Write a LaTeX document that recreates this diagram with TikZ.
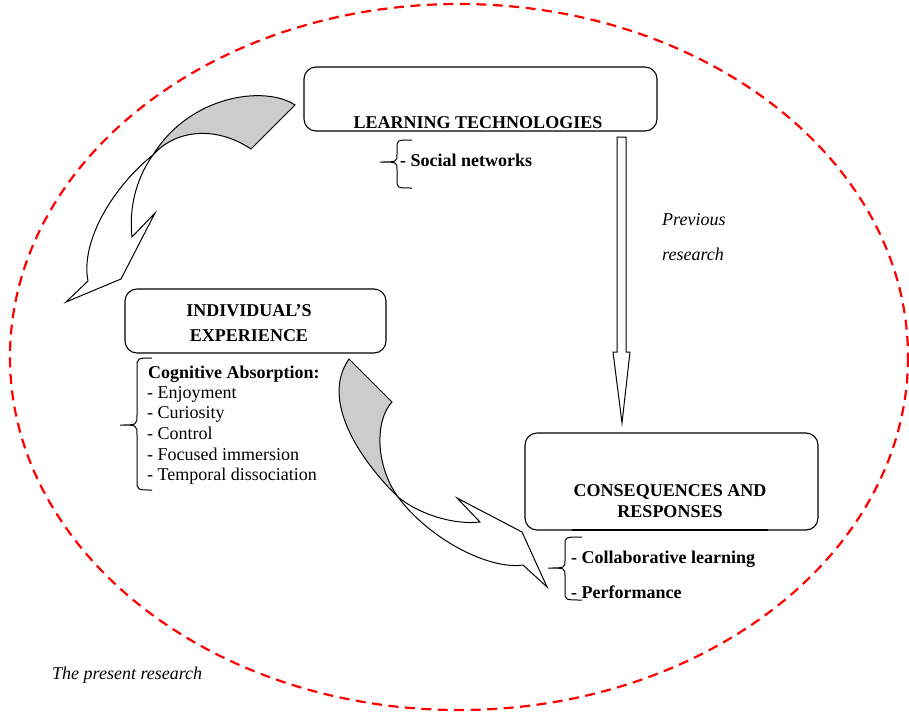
\documentclass[tikz,border=0pt]{standalone}
\usepackage{fontspec}
\setmainfont{Liberation Serif}
\begin{document}
\begin{tikzpicture}[x=1pt,y=-1pt,
  every node/.style={font=\fontsize{18}{22}\selectfont, inner sep=0pt},
  box/.style={draw, rounded corners=12pt, line width=1.1pt},
  title/.style={font=\fontsize{18}{22}\selectfont\bfseries, anchor=base},
  item/.style={anchor=base west},
  bitem/.style={anchor=base west, font=\fontsize{18}{22}\selectfont\bfseries},
  note/.style={anchor=base west, font=\fontsize{18}{22}\selectfont\itshape},
  ribbon/.style={draw, line width=1pt, line join=miter},
  brace/.style={draw, line width=1pt},
  scopeline/.style={draw=red, line width=2.2pt, dash pattern=on 10pt off 6.5pt}]
\useasboundingbox (0,0) rectangle (909,712);

% outer dashed scope
\draw[scopeline] (459,357) ellipse [x radius=449, y radius=353];

% boxes
\node[box, minimum width=353pt, minimum height=64pt] (lt) at (480.5,99) {};
\node[box, minimum width=261pt, minimum height=64pt] (ie) at (255.5,321) {};
\node[box, minimum width=293pt, minimum height=97pt] (cr) at (671.5,481.5) {};

\node[title] (ltA) at (478,128) {LEARNING TECHNOLOGIES};
\node[title] (ieA) at (249,316) {INDIVIDUAL’S};
\node[title] (ieB) at (249,341) {EXPERIENCE};
\node[title] (crA) at (670,496) {CONSEQUENCES AND};
\node[title] (crB) at (670,517) {RESPONSES};

% thick rule under the consequences box
\coordinate (ruleL) at (572,530);
\coordinate (ruleR) at (768,530);
\draw[line width=2.6pt] (ruleL) -- (ruleR);

% braces
\draw[brace] (412,140) .. controls (397,140) .. (397,148) -- (397,154)
  .. controls (397,162) .. (380,162) .. controls (397,162) .. (397,170)
  -- (397,180) .. controls (397,188) .. (412,188);
\draw[brace] (152,358) .. controls (137,358) .. (137,368) -- (137,415)
  .. controls (137,425) .. (120,425) .. controls (137,425) .. (137,435)
  -- (137,480) .. controls (137,490) .. (152,490);
\draw[brace] (582,537) .. controls (565,537) .. (565,545) -- (565,560)
  .. controls (565,568) .. (548,568) .. controls (565,568) .. (565,576)
  -- (565,592) .. controls (565,600) .. (582,600);

% lists
\node[bitem] (sn) at (400,166) {- Social networks};
\node[bitem] (ca) at (148,378) {Cognitive Absorption:};
\node[item] (c1) at (147,398) {- Enjoyment};
\node[item] (c2) at (147,418) {- Curiosity};
\node[item] (c3) at (147,439) {- Control};
\node[item] (c4) at (147,460) {- Focused immersion};
\node[item] (c5) at (147,480) {- Temporal dissociation};
\node[bitem] (r1) at (571,563) {- Collaborative learning};
\node[bitem] (r2) at (571,598) {- Performance};

\node[note] (pr1) at (662,225) {Previous};
\node[note] (pr2) at (662,260) {research};
\node[note] (cur) at (52,679) {The present research};

% straight block arrow: previous research
\draw[ribbon, fill=white] (617,137) -- (626,137) -- (626,352) -- (630,352)
  -- (622,423) -- (613,352) -- (617,352) -- cycle;

% twisted curved arrow: technologies -> experience
\draw[ribbon, fill=gray!40] (153,155) .. controls (190,95) and (265,85) .. (295,105)
  -- (251,149) .. controls (215,125) and (175,130) .. (153,155) -- cycle;
\draw[ribbon, fill=white] (153,155) .. controls (115,185) and (80,240) .. (88,281)
  -- (66,302) -- (121,279) -- (155,213) -- (132,237)
  .. controls (129,210) and (135,180) .. (153,155) -- cycle;

% twisted curved arrow: experience -> consequences
\draw[ribbon, fill=gray!40] (349,359) -- (392,402)
  .. controls (375,420) and (375,465) .. (398,497)
  .. controls (360,460) and (320,400) .. (349,359) -- cycle;
\draw[ribbon, fill=white] (398,497) .. controls (420,515) and (455,525) .. (480,522)
  -- (457,498) -- (522,532) -- (547,587) -- (523,565)
  .. controls (490,570) and (430,540) .. (398,497) -- cycle;
\end{tikzpicture}
\end{document}
